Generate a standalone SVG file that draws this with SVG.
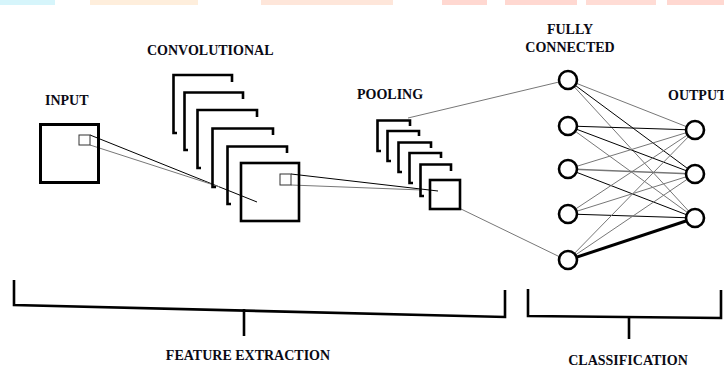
<svg xmlns="http://www.w3.org/2000/svg" width="724" height="367" viewBox="0 0 724 367">
  <style>
    .lbl { font-family: "Liberation Serif", "Times New Roman", serif; font-weight: bold; font-size: 14px; fill: #0a0a14; }
    .box { fill: none; stroke: #000; stroke-width: 2.6; }
    .brk { fill: none; stroke: #000; stroke-width: 2.6; stroke-linejoin: miter; }
    .win { fill: none; stroke: #333; stroke-width: 1; }
    .thin { stroke: #000; stroke-width: 1; fill: none; }
    .grey { stroke: #777; stroke-width: 1; fill: none; }
    .node { fill: #fff; stroke: #000; stroke-width: 2.6; }
    .span { fill: none; stroke: #000; stroke-width: 2.6; }
  </style>

  <rect width="724" height="367" fill="#fff"/>

  <!-- top colour strip -->
  <g id="strip">
    <rect x="0" y="0" width="55" height="5" fill="#d6f5fb"/>
    <rect x="90" y="0" width="108" height="5" fill="#feeedc"/>
    <rect x="261" y="0" width="132" height="5" fill="#fee6da"/>
    <rect x="442" y="0" width="45" height="5" fill="#ffd8d1"/>
    <rect x="505" y="0" width="72" height="5" fill="#ffd8d1"/>
    <rect x="586" y="0" width="70" height="5" fill="#ffdcd5"/>
    <rect x="667" y="0" width="57" height="5" fill="#ffd8d1"/>
  </g>

  <!-- connectors (maps are unfilled, so projection lines show inside them) -->
  <g id="connectors">
    <!-- input window to convolution map -->
    <line class="thin" x1="90" y1="135" x2="257" y2="202"/>
    <line class="grey" x1="90" y1="145" x2="220" y2="187"/>
    <!-- convolution window to pooling map -->
    <line class="thin" x1="291" y1="174" x2="438" y2="191"/>
    <line class="grey" x1="291" y1="185" x2="422" y2="190"/>
    <!-- pooling to fully connected -->
    <line class="grey" x1="408" y1="118" x2="559" y2="82"/>
    <line class="grey" x1="461" y1="209" x2="560" y2="257"/>
    <!-- fully connected to output -->
    <line class="grey" x1="568" y1="80" x2="695" y2="130"/>
    <line class="thin" x1="568" y1="80" x2="695" y2="174"/>
    <line class="grey" x1="568" y1="80" x2="695" y2="218"/>
    <line class="thin" x1="568" y1="126" x2="695" y2="130"/>
    <line class="thin" x1="568" y1="126" x2="695" y2="174"/>
    <line class="grey" x1="568" y1="126" x2="695" y2="218"/>
    <line class="grey" x1="568" y1="169" x2="695" y2="130"/>
    <line class="grey" x1="568" y1="169" x2="695" y2="174" style="stroke-width:1.6"/>
    <line class="thin" x1="568" y1="169" x2="695" y2="218"/>
    <line class="grey" x1="568" y1="214" x2="695" y2="130"/>
    <line class="grey" x1="568" y1="214" x2="695" y2="174"/>
    <line class="thin" x1="568" y1="214" x2="695" y2="218"/>
    <line class="grey" x1="568" y1="260" x2="695" y2="130"/>
    <line class="grey" x1="568" y1="260" x2="695" y2="174"/>
    <line class="thin" x1="568" y1="260" x2="695" y2="218" style="stroke-width:3"/>
  </g>

  <!-- input image -->
  <g id="input">
    <rect class="box" x="40.5" y="124.5" width="58" height="58" style="stroke-width:3"/>
    <rect class="win" x="79" y="135" width="11" height="10"/>
    <text class="lbl" x="45" y="105">INPUT</text>
  </g>

  <!-- convolutional feature maps -->
  <g id="convolutional">
    <path class="brk" d="M177,133 H173.5 V75 H232 V82"/>
    <path class="brk" d="M188,150 H184.5 V92.5 H243 V99"/>
    <path class="brk" d="M201,168 H197.5 V110 H257 V117"/>
    <path class="brk" d="M216,187 H212.5 V128.5 H273 V135"/>
    <path class="brk" d="M231,204 H227.5 V146.5 H287 V153"/>
    <rect class="box" x="241" y="163" width="58" height="58"/>
    <rect class="win" x="280" y="174" width="11" height="11"/>
    <text class="lbl" x="147" y="55">CONVOLUTIONAL</text>
  </g>

  <!-- pooled feature maps -->
  <g id="pooling">
    <path class="brk" d="M381,151 H377.5 V120.5 H410 V126"/>
    <path class="brk" d="M391,161 H387.5 V131 H419 V136"/>
    <path class="brk" d="M402,172 H398.5 V142.5 H431 V148"/>
    <path class="brk" d="M413,183 H409.5 V153 H441 V158"/>
    <path class="brk" d="M424,196 H420.5 V164.5 H451 V171"/>
    <rect class="box" x="430" y="180" width="30" height="29"/>
    <text class="lbl" x="357" y="99">POOLING</text>
  </g>

  <!-- fully connected layer -->
  <g id="fully-connected">
    <circle class="node" cx="568" cy="80" r="9"/>
    <circle class="node" cx="568" cy="126" r="9"/>
    <circle class="node" cx="568" cy="169" r="9"/>
    <circle class="node" cx="568" cy="214" r="9"/>
    <circle class="node" cx="568" cy="260" r="9"/>
    <text class="lbl" x="570" y="34" text-anchor="middle">FULLY</text>
    <text class="lbl" x="570" y="52" text-anchor="middle">CONNECTED</text>
  </g>

  <!-- output layer (label runs off the right edge) -->
  <g id="output">
    <circle class="node" cx="695" cy="130" r="9"/>
    <circle class="node" cx="695" cy="174" r="9"/>
    <circle class="node" cx="695" cy="218" r="9"/>
    <text class="lbl" x="668" y="100">OUTPUT</text>
  </g>

  <!-- stage brackets -->
  <g id="feature-extraction">
    <polyline class="span" points="14,280 14,305 505,317 505,290"/>
    <line class="span" x1="244" y1="309" x2="244" y2="336"/>
    <text class="lbl" x="248" y="360" text-anchor="middle">FEATURE EXTRACTION</text>
  </g>
  <g id="classification">
    <polyline class="span" points="528,289 528,316 721,318 721,290"/>
    <line class="span" x1="629" y1="317" x2="629" y2="339"/>
    <text class="lbl" x="628" y="365" text-anchor="middle">CLASSIFICATION</text>
  </g>
</svg>
